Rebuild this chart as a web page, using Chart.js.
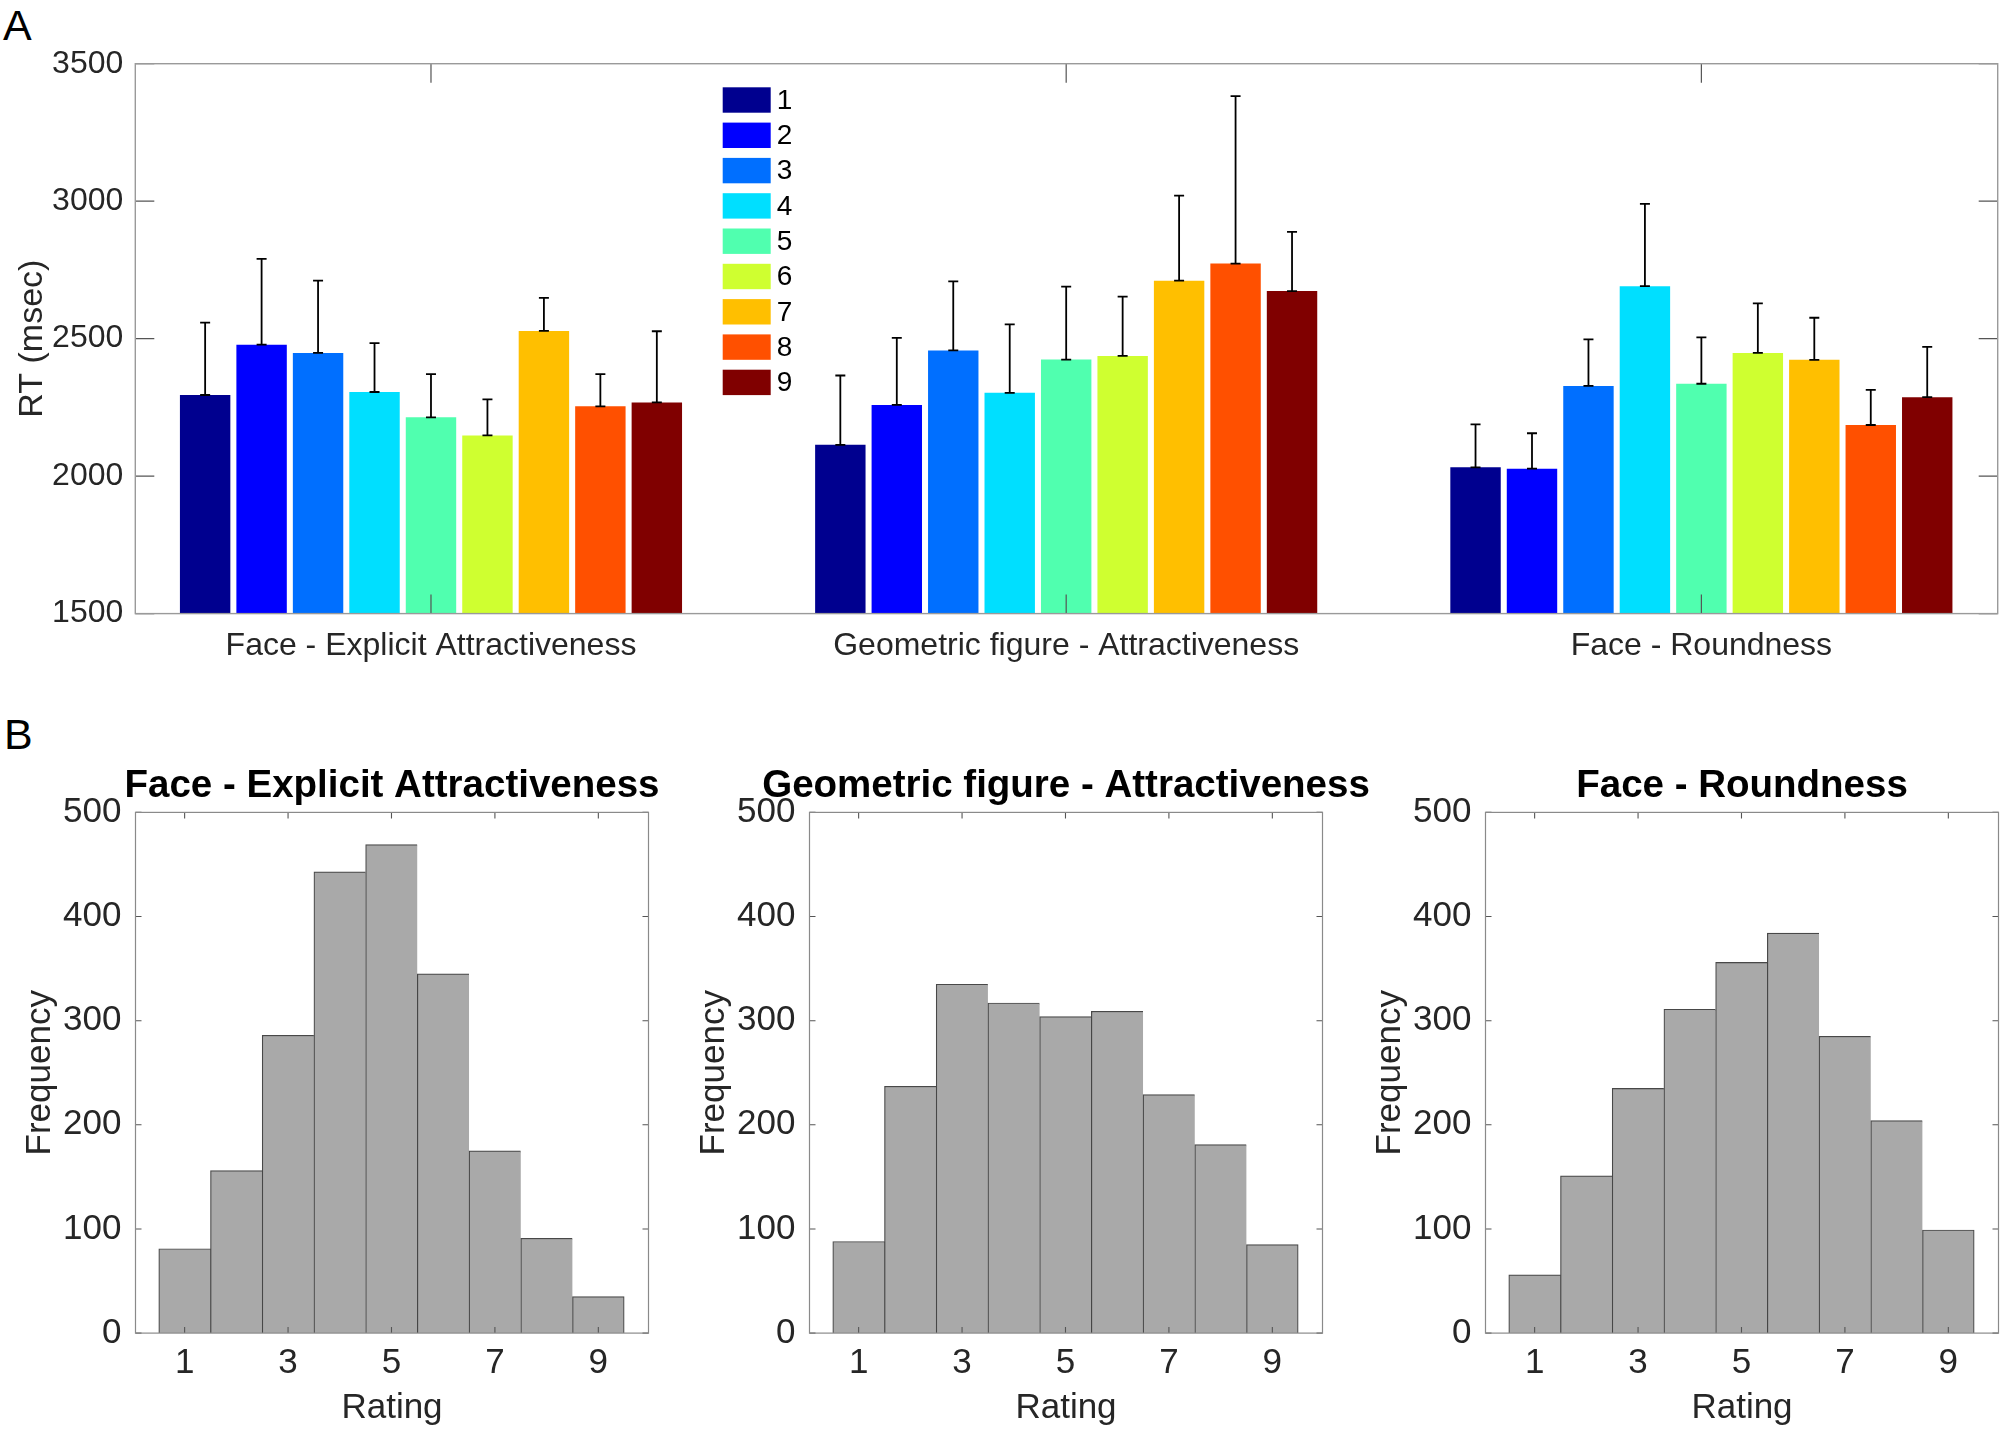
<!DOCTYPE html>
<html><head><meta charset="utf-8">
<script src="https://cdn.jsdelivr.net/npm/chart.js@4.4.1/dist/chart.umd.min.js"></script>
<style>
html,body{margin:0;padding:0;background:#fff;overflow:hidden;}
body{width:2001px;height:1431px;position:relative;font-family:'Liberation Sans',Arial,sans-serif;}
canvas{position:absolute;}
.letter{position:absolute;font-size:43px;line-height:43px;color:#000;}
</style></head><body>
<div class="letter" style="left:3px;top:4px">A</div>
<div class="letter" style="left:4px;top:713px">B</div>
<canvas id="rt" style="left:0;top:0" width="2001" height="700"></canvas>
<canvas id="h1" style="left:0;top:700px" width="784" height="731"></canvas>
<canvas id="h2" style="left:674px;top:700px" width="784" height="731"></canvas>
<canvas id="h3" style="left:1350px;top:700px" width="784" height="731"></canvas>
<script>
// ---------- data ----------
const ratingLabels = ['1','2','3','4','5','6','7','8','9'];
const groupNames = ['Face - Explicit Attractiveness', 'Geometric figure - Attractiveness', 'Face - Roundness'];
const groupPos = [1, 2, 3];

// mean RT (msec) per rating, per task
const rtFaceAttr  = [2295, 2478, 2448, 2306, 2214, 2148, 2528, 2254, 2268];
const rtGeomAttr  = [2114, 2259, 2457, 2303, 2424, 2437, 2711, 2773, 2673];
const rtFaceRound = [2032, 2027, 2328, 2691, 2336, 2448, 2423, 2186, 2287];
// upper error (msec)
const errFaceAttr  = [263, 312, 263, 178, 157, 131, 120, 117, 259];
const errGeomAttr  = [252, 244, 251, 249, 265, 216, 309, 609, 215];
const errFaceRound = [156, 129, 169, 299, 169, 180, 153, 128, 183];

const rtTicks = [1500, 2000, 2500, 3000, 3500];

// rating histograms (frequency)
const ratings = [1, 2, 3, 4, 5, 6, 7, 8, 9];
const histFaceAttr  = [81, 156, 286, 443, 469, 345, 175, 91, 35];
const histGeomAttr  = [88, 237, 335, 317, 304, 309, 229, 181, 85];
const histFaceRound = [56, 151, 235, 311, 356, 384, 285, 204, 99];
const ratingTicks = [1, 3, 5, 7, 9];
const freqTicks = [0, 100, 200, 300, 400, 500];

// ---------- styling ----------
const jetColors = ['#00008f','#0000ff','#006fff','#00dfff','#50ffaf','#cfff30','#ffbf00','#ff5000','#800000'];
const FONT = "'Liberation Sans', Arial, sans-serif";
const TXT = '#262626';
Chart.defaults.font.family = FONT;
Chart.defaults.color = TXT;

const boxPlugin = {
  id: 'matlabBox',
  afterDatasetsDraw(chart, args, o) {
    const {ctx, chartArea: a} = chart;
    const xs = chart.scales.x, ys = chart.scales.y, L = o.tickLen;
    ctx.save();
    ctx.strokeStyle = o.tickColor; ctx.lineWidth = o.tickWidth;
    ctx.beginPath();
    xs.ticks.forEach(t => {
      const p = xs.getPixelForValue(t.value);
      ctx.moveTo(p, a.bottom); ctx.lineTo(p, a.bottom - L);
      ctx.moveTo(p, a.top); ctx.lineTo(p, a.top + L);
    });
    ys.ticks.forEach(t => {
      const p = ys.getPixelForValue(t.value);
      ctx.moveTo(a.left, p); ctx.lineTo(a.left + L, p);
      ctx.moveTo(a.right, p); ctx.lineTo(a.right - L, p);
    });
    ctx.stroke();
    ctx.strokeStyle = o.boxColor; ctx.lineWidth = o.boxWidth;
    ctx.strokeRect(a.left, a.top, a.right - a.left, a.bottom - a.top);
    ctx.restore();
  }
};

const errPlugin = {
  id: 'errBars',
  afterDatasetsDraw(chart, args, o) {
    const ys = chart.scales.y, ctx = chart.ctx;
    ctx.save(); ctx.strokeStyle = o.color; ctx.lineWidth = o.width;
    chart.data.datasets.forEach((ds, d) => {
      const meta = chart.getDatasetMeta(d);
      meta.data.forEach((bar, i) => {
        const v = ds.data[i].y, e = ds.errors[i];
        const yT = ys.getPixelForValue(v + e), yB = ys.getPixelForValue(v);
        ctx.beginPath();
        ctx.moveTo(bar.x, yB); ctx.lineTo(bar.x, yT);
        ctx.moveTo(bar.x - o.cap, yT); ctx.lineTo(bar.x + o.cap, yT);
        ctx.moveTo(bar.x - o.cap, yB); ctx.lineTo(bar.x + o.cap, yB);
        ctx.stroke();
      });
    });
    ctx.restore();
  }
};

const legendPlugin = {
  id: 'insideLegend',
  afterDraw(chart, args, o) {
    const {ctx, chartArea: a} = chart;
    ctx.save();
    ctx.font = o.font; ctx.textBaseline = 'middle'; ctx.textAlign = 'left';
    chart.data.datasets.forEach((ds, i) => {
      const x = a.left + o.dx, y = a.top + o.dy + i * o.pitch;
      ctx.fillStyle = ds.backgroundColor; ctx.fillRect(x, y, o.boxW, o.boxH);
      ctx.fillStyle = o.color; ctx.fillText(ds.label, x + o.boxW + o.gap, y + o.boxH / 2 + 1);
    });
    ctx.restore();
  }
};

// ---------- top chart ----------
const rtMeans = [rtFaceAttr, rtGeomAttr, rtFaceRound];
const rtErrs = [errFaceAttr, errGeomAttr, errFaceRound];
const rtDatasets = ratingLabels.map((lab, r) => ({
  label: lab,
  data: groupPos.map((g, gi) => ({x: g, y: rtMeans[gi][r]})),
  errors: groupPos.map((g, gi) => rtErrs[gi][r]),
  backgroundColor: jetColors[r],
  borderWidth: 0,
  barPercentage: 0.893,
  categoryPercentage: 0.8
}));

new Chart(document.getElementById('rt'), {
  type: 'bar',
  data: { datasets: rtDatasets },
  plugins: [errPlugin, boxPlugin, legendPlugin],
  options: {
    responsive: false, animation: false, devicePixelRatio: 1,
    layout: { padding: { left: 0, top: 63.7, right: 3.3, bottom: 0 } },
    plugins: {
      legend: { display: false }, tooltip: { enabled: false },
      errBars: { color: '#000', width: 1.8, cap: 5 },
      matlabBox: { tickLen: 19, tickColor: '#555', tickWidth: 1.2, boxColor: '#9a9a9a', boxWidth: 1.4 },
      insideLegend: { dx: 587.4, dy: 23.6, pitch: 35.3, boxW: 48, boxH: 25.4, gap: 6, font: '28px ' + FONT, color: '#000' }
    },
    scales: {
      x: {
        type: 'linear', min: 0.5345, max: 3.4665, offset: false,
        afterBuildTicks: s => { s.ticks = groupPos.map(v => ({ value: v })); },
        afterFit: s => { s.height = 86.4; },
        grid: { display: false, drawTicks: false }, border: { display: false },
        ticks: { font: { size: 32 }, color: TXT, padding: 13, maxRotation: 0, autoSkip: false,
                 callback: (v, i) => groupNames[i] }
      },
      y: {
        min: rtTicks[0], max: rtTicks[rtTicks.length - 1],
        afterBuildTicks: s => { s.ticks = rtTicks.map(v => ({ value: v })); },
        afterFit: s => { s.width = 135.3; },
        grid: { display: false, drawTicks: false }, border: { display: false },
        ticks: { font: { size: 32 }, color: TXT, padding: 12, callback: v => String(v) },
        title: { display: true, text: 'RT (msec)', font: { size: 34 }, color: TXT, padding: { top: 12, bottom: 0 } }
      }
    }
  }
});

// ---------- histograms ----------
function makeHist(id, title, freq) {
  new Chart(document.getElementById(id), {
    type: 'bar',
    data: { datasets: [{
      label: title,
      data: ratings.map((r, i) => ({ x: r, y: freq[i] })),
      backgroundColor: '#a9a9a9',
      borderColor: 'rgba(40,40,40,0.85)',
      borderWidth: c => ({ top: 1.2, left: 1.2, bottom: 0, right: c.dataIndex === ratings.length - 1 ? 1.2 : 0 }),
      borderSkipped: false,
      barPercentage: 1, categoryPercentage: 1
    }] },
    plugins: [boxPlugin],
    options: {
      responsive: false, animation: false, devicePixelRatio: 1,
      layout: { padding: { left: 0, top: 0, right: 0, bottom: 0 } },
      plugins: {
        legend: { display: false }, tooltip: { enabled: false },
        title: { display: true, text: title, color: '#000', font: { size: 38.5, weight: 'bold' }, padding: { top: 63, bottom: 3.2 } },
        matlabBox: { tickLen: 6, tickColor: '#555', tickWidth: 1.1, boxColor: '#8a8a8a', boxWidth: 1.2 }
      },
      scales: {
        x: {
          type: 'linear', min: 0.05, max: 9.97, offset: false,
          afterBuildTicks: s => { s.ticks = ratingTicks.map(v => ({ value: v })); },
          afterFit: s => { s.height = 97.9; },
          grid: { display: false, drawTicks: false }, border: { display: false },
          ticks: { font: { size: 35 }, color: TXT, padding: 9, maxRotation: 0, autoSkip: false },
          title: { display: true, text: 'Rating', font: { size: 35 }, color: TXT, padding: { top: 0, bottom: 1.5 } }
        },
        y: {
          min: 0, max: 500,
          afterBuildTicks: s => { s.ticks = freqTicks.map(v => ({ value: v })); },
          afterFit: s => { s.width = 135.5; },
          grid: { display: false, drawTicks: false }, border: { display: false },
          ticks: { font: { size: 35 }, color: TXT, padding: 14, callback: v => String(v) },
          title: { display: true, text: 'Frequency', font: { size: 35 }, color: TXT, padding: { top: 19, bottom: 0 } }
        },
        // empty right-hand axis that mirrors the left margin so the title centres over the plot
        y2: {
          position: 'right', display: true,
          afterFit: s => { s.width = 135.5; },
          grid: { display: false, drawTicks: false }, border: { display: false },
          ticks: { display: false }
        }
      }
    }
  });
}
makeHist('h1', groupNames[0], histFaceAttr);
makeHist('h2', groupNames[1], histGeomAttr);
makeHist('h3', groupNames[2], histFaceRound);
</script>
</body></html>
